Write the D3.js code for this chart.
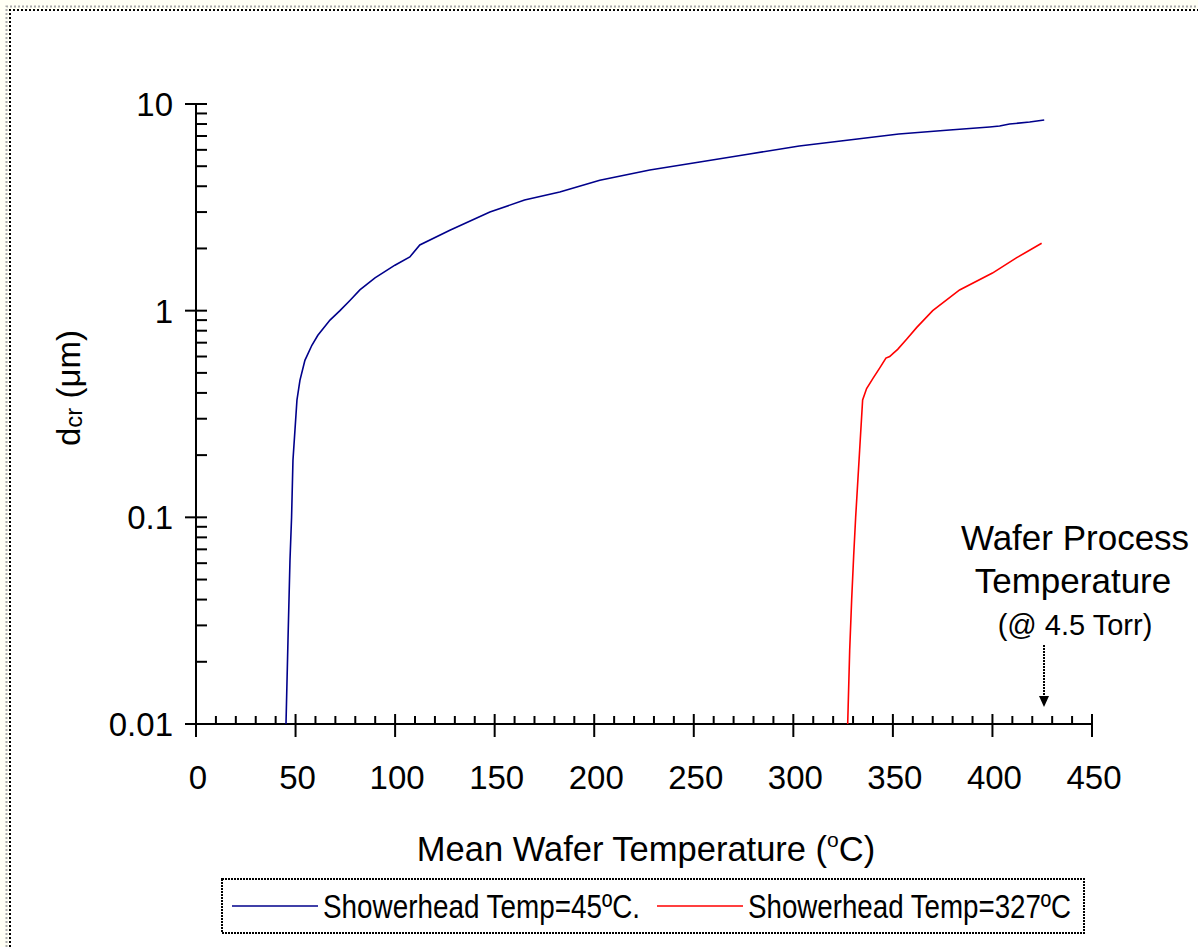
<!DOCTYPE html>
<html>
<head>
<meta charset="utf-8">
<script src="https://cdn.jsdelivr.net/npm/d3@7"></script>
<style>
  html, body { margin: 0; padding: 0; background: #fffff4; }
  svg { display: block; font-family: Arial, "Liberation Sans", sans-serif; }
</style>
</head>
<body>
<div id="chart"></div>
<script>
// Critical diameter vs mean wafer temperature, log y axis

// series: showerhead at 45 C
const tempLow = [45.2, 46.2, 47.2, 48.0, 48.7, 50.7, 52.2, 54.7, 58.2, 61.2, 67.3, 72.3, 77.3, 82.3, 89.9, 99.9, 107.4, 112.4, 127.5, 147.6, 165, 182.7, 202.8, 227.9, 253, 278, 303, 328, 353, 378.5, 398.6, 403.6, 408.6, 418.7, 426];
const dcrLow  = [0.01, 0.0254, 0.062, 0.1, 0.189, 0.369, 0.46, 0.575, 0.68, 0.76, 0.90, 1.0, 1.12, 1.26, 1.44, 1.66, 1.82, 2.08, 2.45, 3.0, 3.43, 3.75, 4.28, 4.79, 5.24, 5.73, 6.26, 6.70, 7.16, 7.48, 7.74, 7.82, 8.0, 8.18, 8.37];

// series: showerhead at 327 C
const tempHigh = [327.3, 328.3, 329.3, 330.3, 331.3, 333.3, 334.8, 336.8, 340, 343.5, 346.5, 348.4, 350, 352.4, 357, 362, 370, 383.5, 400, 412, 424.7];
const dcrHigh  = [0.01, 0.0227, 0.04, 0.065, 0.1, 0.211, 0.37, 0.42, 0.47, 0.53, 0.59, 0.60, 0.62, 0.65, 0.73, 0.83, 1.0, 1.26, 1.52, 1.80, 2.12];

const xMajor = [0, 50, 100, 150, 200, 250, 300, 350, 400, 450];
const yMajor = [0.01, 0.1, 1, 10];
const yLabels = ["0.01", "0.1", "1", "10"];
const legendNames = ["Showerhead Temp=45ºC.", "Showerhead Temp=327ºC"];
const seriesColors = ["#00008b", "#ff0000"];

const W = 1198, H = 947;

const svg = d3.select("#chart").append("svg")
  .attr("width", W)
  .attr("height", H);

// page frame
svg.append("rect").attr("x", 10).attr("y", 10).attr("width", W).attr("height", H).attr("fill", "#fff");
svg.append("path")
  .attr("d", `M6.5,${H} V6.5 H${W}`)
  .attr("fill", "none").attr("stroke", "#aaa").attr("stroke-width", 2).attr("stroke-dasharray", "2,2");
svg.append("path")
  .attr("d", `M10,${H} V10 H${W}`)
  .attr("fill", "none").attr("stroke", "#000").attr("stroke-width", 2).attr("stroke-dasharray", "2,2");

const x = d3.scaleLinear().domain([0, 450]).range([196, 1092]);
const y = d3.scaleLog().domain([0.01, 10]).range([724, 104]);

const axes = svg.append("g").attr("stroke", "#000").attr("stroke-width", 2);

// y axis
axes.append("line").attr("x1", x(0)).attr("x2", x(0)).attr("y1", y(10)).attr("y2", y(0.01));
const yMinor = [];
for (let d = 0; d < 3; d++) {
  for (let k = 2; k <= 9; k++) yMinor.push(k * Math.pow(10, d - 2));
}
axes.selectAll(".ymaj").data(yMajor).join("line")
  .attr("x1", x(0) - 11).attr("x2", x(0) + 11)
  .attr("y1", d => y(d)).attr("y2", d => y(d));
axes.selectAll(".ymin").data(yMinor).join("line")
  .attr("x1", x(0)).attr("x2", x(0) + 11)
  .attr("y1", d => y(d)).attr("y2", d => y(d));

// x axis
axes.append("line").attr("x1", x(0)).attr("x2", x(450)).attr("y1", y(0.01)).attr("y2", y(0.01));
const xMinor = d3.range(10, 450, 10).filter(v => v % 50 !== 0);
axes.selectAll(".xmaj").data(xMajor).join("line")
  .attr("x1", d => x(d)).attr("x2", d => x(d))
  .attr("y1", y(0.01) - 10).attr("y2", y(0.01) + 13);
axes.selectAll(".xmin").data(xMinor).join("line")
  .attr("x1", d => x(d)).attr("x2", d => x(d))
  .attr("y1", y(0.01) - 8).attr("y2", y(0.01));

// tick labels
svg.append("g").selectAll("text").data(xMajor).join("text")
  .attr("x", d => x(d) + 2).attr("y", 789)
  .attr("text-anchor", "middle").attr("font-size", 33)
  .text(d => d);
svg.append("g").selectAll("text").data(yMajor).join("text")
  .attr("x", 173).attr("y", d => y(d) + 12)
  .attr("text-anchor", "end").attr("font-size", 33)
  .text((d, i) => yLabels[i]);

// axis titles
const xt = svg.append("text")
  .attr("x", 646).attr("y", 861)
  .attr("text-anchor", "middle").attr("font-size", 34.5);
xt.append("tspan").text("Mean Wafer Temperature (");
xt.append("tspan").attr("font-size", 21).attr("dy", -14).text("o");
xt.append("tspan").attr("dy", 14).text("C)");

const yt = svg.append("text")
  .attr("transform", "translate(80,388) rotate(-90)")
  .attr("text-anchor", "middle").attr("font-size", 33);
yt.append("tspan").text("d");
yt.append("tspan").attr("font-size", 24).attr("dy", 2).text("cr");
yt.append("tspan").attr("dy", -2).text(" (μm)");

// curves
const line = d3.line()
  .x(d => x(d[0]))
  .y(d => y(d[1]));

const series = [
  d3.zip(tempLow, dcrLow),
  d3.zip(tempHigh, dcrHigh)
];

svg.append("g").attr("fill", "none")
  .selectAll("path").data(series).join("path")
  .attr("stroke", (d, i) => seriesColors[i])
  .attr("stroke-width", 1.6)
  .attr("d", line);

// annotation
const ann = svg.append("g").attr("text-anchor", "middle").attr("fill", "#000");
ann.append("text").attr("x", 1075).attr("y", 550).attr("font-size", 35).text("Wafer Process");
ann.append("text").attr("x", 1073).attr("y", 593).attr("font-size", 35).text("Temperature");
ann.append("text").attr("x", 1075).attr("y", 635).attr("font-size", 29).text("(@ 4.5 Torr)");
ann.append("line")
  .attr("x1", 1044).attr("x2", 1044).attr("y1", 645).attr("y2", 698)
  .attr("stroke", "#000").attr("stroke-width", 2).attr("stroke-dasharray", "2,1");
ann.append("path")
  .attr("d", "M1039,696 L1049,696 L1044,707 Z")
  .attr("fill", "#000");

// legend
const lg = svg.append("g");
lg.append("rect")
  .attr("x", 222).attr("y", 879).attr("width", 862).attr("height", 54)
  .attr("fill", "#fff").attr("stroke", "#000").attr("stroke-width", 2).attr("stroke-dasharray", "2,1");
const legendX = [232, 657];
legendNames.forEach((name, i) => {
  lg.append("line")
    .attr("x1", legendX[i]).attr("x2", legendX[i] + 86)
    .attr("y1", 906).attr("y2", 906)
    .attr("stroke", seriesColors[i]).attr("stroke-width", 1.6);
  lg.append("text")
    .attr("x", legendX[i] + 91).attr("y", 918)
    .attr("font-family", "'Liberation Sans Narrow', 'Arial Narrow', Arial, sans-serif")
    .attr("font-size", 33)
    .attr("textLength", i === 0 ? 317 : 323)
    .attr("lengthAdjust", "spacingAndGlyphs")
    .text(name);
});
</script>
</body>
</html>
